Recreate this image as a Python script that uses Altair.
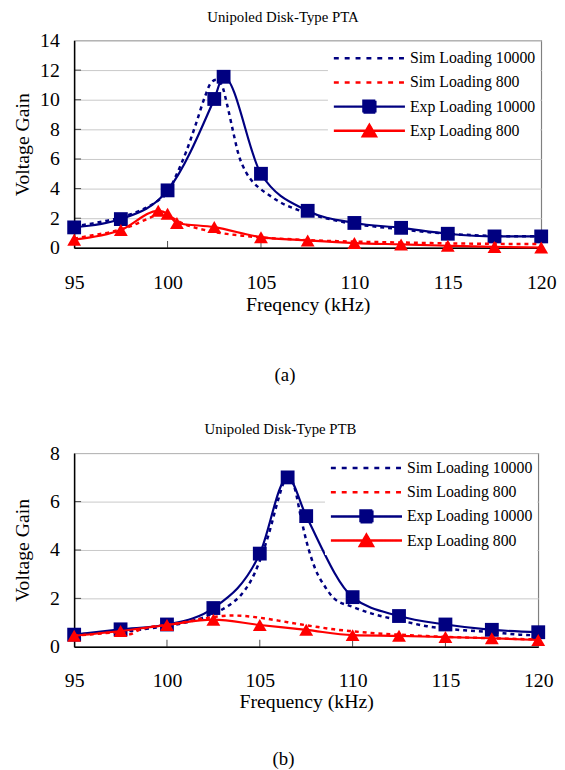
import altair as alt
import pandas as pd

FONT = "Liberation Serif"
NAVY = "#000080"
RED = "#FF0000"
SERIES = ["Sim Loading 10000", "Sim Loading 800", "Exp Loading 10000", "Exp Loading 800"]

# ---------- (a) Unipoled Disk-Type PTA ----------
a_sim10k_f = [95, 96, 97, 98, 99, 99.5, 100, 100.5, 101, 101.5, 102, 102.3, 102.6, 102.9, 103.2,
              103.5, 103.8, 104.2, 104.6, 105, 105.5, 106, 107, 108, 109, 110, 111, 112.5, 114,
              115, 116, 117.5, 119, 120]
a_sim10k_v = [1.45, 1.65, 1.9, 2.25, 2.8, 3.2, 3.75, 5.0, 6.5, 8.3, 10.2, 11.1, 11.35, 11.0, 9.6,
              7.9, 6.3, 5.1, 4.4, 3.95, 3.5, 3.1, 2.55, 2.15, 1.85, 1.6, 1.45, 1.25, 1.05,
              0.95, 0.88, 0.8, 0.78, 0.78]
a_sim800_f = [95, 96, 97, 98, 99, 99.5, 99.8, 100, 100.5, 101, 101.5, 102, 102.5, 103, 104, 105,
              106, 107.5, 110, 112.5, 115, 117.5, 120]
a_sim800_v = [0.62, 0.85, 1.08, 1.45, 2.0, 2.25, 2.3, 2.2, 1.85, 1.55, 1.35, 1.2, 1.07, 0.97, 0.82, 0.7,
              0.62, 0.52, 0.42, 0.36, 0.3, 0.27, 0.25]
a_exp10k_f = [95, 97.5, 100, 102.5, 103, 105, 107.5, 110, 112.5, 115, 117.5, 120]
a_exp10k_v = [1.38, 1.94, 3.88, 10.05, 11.55, 5.0, 2.5, 1.68, 1.35, 0.95, 0.77, 0.77]
a_exp800_f = [95, 97.5, 99.5, 100, 100.5, 102.5, 105, 107.5, 110, 112.5, 115, 117.5, 120]
a_exp800_v = [0.55, 1.2, 2.5, 2.3, 1.68, 1.4, 0.72, 0.5, 0.32, 0.23, 0.14, 0.06, 0.02]

# ---------- (b) Unipoled Disk-Type PTB ----------
b_sim10k_f = [95, 96, 97, 97.5, 98, 99, 100, 101, 102, 102.5, 103, 103.5, 104, 104.5, 105, 105.5,
              106, 106.3, 106.6, 106.9, 107.2, 107.5, 108, 108.5, 109, 110, 111, 112.5, 114, 115,
              116, 117.5, 119, 120]
b_sim10k_v = [0.5, 0.55, 0.6, 0.62, 0.65, 0.75, 0.85, 1.0, 1.22, 1.38, 1.55, 1.8, 2.15, 2.7, 3.55, 4.7,
              6.1, 6.8, 7.0, 6.5, 5.4, 4.4, 3.2, 2.5, 2.0, 1.65, 1.38, 1.1, 0.85, 0.75,
              0.68, 0.6, 0.5, 0.47]
b_sim800_f = [95, 96, 97, 97.5, 98, 98.5, 99, 100, 101, 102, 103, 103.5, 104, 105, 106, 107, 108,
              109, 110, 111, 112.5, 114, 115, 117.5, 120]
b_sim800_v = [0.45, 0.52, 0.58, 0.6, 0.52, 0.7, 0.8, 0.9, 1.02, 1.17, 1.27, 1.29, 1.28, 1.2, 1.08, 0.95, 0.83,
              0.72, 0.64, 0.57, 0.5, 0.44, 0.41, 0.35, 0.3]
b_exp10k_f = [95, 97.5, 100, 102.5, 105, 106.5, 107.5, 110, 112.5, 115, 117.5, 120]
b_exp10k_v = [0.5, 0.72, 0.92, 1.6, 3.85, 7.0, 5.4, 2.05, 1.27, 0.92, 0.7, 0.6]
b_exp800_f = [95, 97.5, 100, 102.5, 105, 107.5, 110, 112.5, 115, 117.5, 120]
b_exp800_v = [0.45, 0.65, 0.9, 1.12, 0.9, 0.7, 0.48, 0.45, 0.4, 0.35, 0.28]

x_ticks = [95, 100, 105, 110, 115, 120]
x_inner_ticks = [100, 105, 110, 115]

# legend glyphs (symbol size 144 -> 1 path unit = 6 px): a 72 px line, marker in its middle
LINE_PATH = "M-1,0L11,0"
SQ_PATH = "M-1,0L11,0M4,-1L6,-1L6,1L4,1Z"
TRI_PATH = "M-1,0L11,0M5,-1L6.1,0.9L3.9,0.9Z"


def df(f, v):
    return pd.DataFrame({"f": f, "v": v})


def panel(title, title_dx, xtitle, caption, sim10k, sim800, exp10k, exp800,
          ymax, width, height, legend_x, legend_y, label_pad, cap_y):
    xs = alt.Scale(domain=[95, 120], nice=False, zero=False)
    ys = alt.Scale(domain=[0, ymax], nice=False)
    xax = alt.Axis(values=x_ticks, title=xtitle, grid=False, ticks=False,
                   labelPadding=label_pad, labelFlush=False, titlePadding=2,
                   labelFont=FONT, labelFontSize=20, labelColor="black",
                   titleFont=FONT, titleFontSize=20, titleFontWeight="normal", titleColor="black")
    yax = alt.Axis(values=list(range(0, ymax + 1, 2)), title="Voltage Gain", grid=True,
                   ticks=False, labelPadding=15, minExtent=40, maxExtent=40, titlePadding=2,
                   labelFont=FONT, labelFontSize=20, labelColor="black",
                   titleFont=FONT, titleFontSize=20, titleFontWeight="normal", titleColor="black")
    X = alt.X("f:Q", scale=xs, axis=xax)
    Y = alt.Y("v:Q", scale=ys, axis=yax)

    xt = alt.Chart(pd.DataFrame({"f": x_inner_ticks})).mark_tick(
        color="black", thickness=1, size=7).encode(x=X, y=alt.value(height - 3.5))
    yt = alt.Chart(pd.DataFrame({"v": list(range(2, ymax, 2))})).mark_tick(
        color="black", thickness=1, size=7).encode(y=Y, x=alt.value(3.5))

    s10 = alt.Chart(df(*sim10k)).mark_line(color=NAVY, strokeWidth=2.5, strokeDash=[4, 4],
                                           interpolate="monotone").encode(x=X, y=Y)
    e10l = alt.Chart(df(*exp10k)).mark_line(color=NAVY, strokeWidth=2.2,
                                            interpolate="monotone").encode(x=X, y=Y)
    e10p = alt.Chart(df(*exp10k)).mark_point(shape="square", filled=True, size=196, color=NAVY,
                                             opacity=1, strokeWidth=0).encode(x=X, y=Y)
    s8 = alt.Chart(df(*sim800)).mark_line(color=RED, strokeWidth=2.5, strokeDash=[4, 4],
                                          interpolate="monotone").encode(x=X, y=Y)
    e8l = alt.Chart(df(*exp800)).mark_line(color=RED, strokeWidth=2.2,
                                           interpolate="monotone").encode(x=X, y=Y)
    e8p = alt.Chart(df(*exp800)).mark_point(shape="triangle-up", filled=True, size=196, color=RED,
                                            opacity=1, strokeWidth=0).encode(x=X, y=Y)

    leg = alt.Legend(title=None, orient="none", legendX=legend_x, legendY=legend_y,
                     fillColor="white", padding=4, symbolSize=144, symbolStrokeWidth=2.5,
                     labelFont=FONT, labelFontSize=16, labelColor="black", rowPadding=2.5,
                     gridAlign="all", labelOffset=63)
    leg_df = pd.DataFrame({"series": SERIES, "f": [95] * 4, "v": [-50] * 4})
    cs = alt.Scale(domain=SERIES, range=[NAVY, RED, NAVY, RED])
    legend_layer = alt.Chart(leg_df).mark_point(clip=True, filled=True, opacity=1, strokeWidth=2.5).encode(
        x=X, y=Y,
        color=alt.Color("series:N", scale=cs, legend=leg),
        stroke=alt.Stroke("series:N", scale=cs, legend=leg),
        shape=alt.Shape("series:N", scale=alt.Scale(domain=SERIES,
                                                    range=[LINE_PATH, LINE_PATH, SQ_PATH, TRI_PATH]),
                        legend=leg),
        strokeDash=alt.StrokeDash("series:N", scale=alt.Scale(domain=SERIES,
                                                              range=[[5, 6], [5, 6], [1, 0], [1, 0]]),
                                  legend=leg),
    )

    cap = alt.Chart(pd.DataFrame({"t": [caption]})).mark_text(
        font=FONT, fontSize=19, align="center", baseline="middle", color="black").encode(
        text="t:N", x=alt.value(width / 2 - 23), y=alt.value(cap_y))

    return alt.layer(xt, yt, s10, e10l, e10p, s8, e8l, e8p, legend_layer, cap).properties(
        width=width, height=height,
        title=alt.TitleParams(title, font=FONT, fontSize=15, fontWeight="normal", color="black",
                              offset=6, dx=title_dx, frame="group"),
    )


top = panel("Unipoled Disk-Type PTA", -25, "Freqency (kHz)", "(a)",
            (a_sim10k_f, a_sim10k_v), (a_sim800_f, a_sim800_v),
            (a_exp10k_f, a_exp10k_v), (a_exp800_f, a_exp800_v),
            14, 473, 210, 257, 6, 25, 339)
bottom = panel("Unipoled Disk-Type PTB", -26, "Frequency (kHz)", "(b)",
               (b_sim10k_f, b_sim10k_v), (b_sim800_f, b_sim800_v),
               (b_exp10k_f, b_exp10k_v), (b_exp800_f, b_exp800_v),
               8, 470, 196, 254, 3, 24, 310)

chart = alt.vconcat(top, bottom, spacing=36).resolve_scale(
    color="independent", stroke="independent", shape="independent", strokeDash="independent"
).resolve_legend(
    color="independent", stroke="independent", shape="independent", strokeDash="independent"
).properties(
    padding={"left": 4, "top": -4, "right": 0, "bottom": 0}
).configure_view(stroke="#808080", strokeWidth=1.2).configure_axis(
    labelFont=FONT, labelFontSize=20, labelColor="black",
    titleFont=FONT, titleFontSize=20, titleFontWeight="normal", titleColor="black",
    domainColor="black", domainWidth=1.5, gridColor="#C8C8C8", gridWidth=1,
)

chart.save("out.html", embed_options={"renderer": "svg", "actions": False})
